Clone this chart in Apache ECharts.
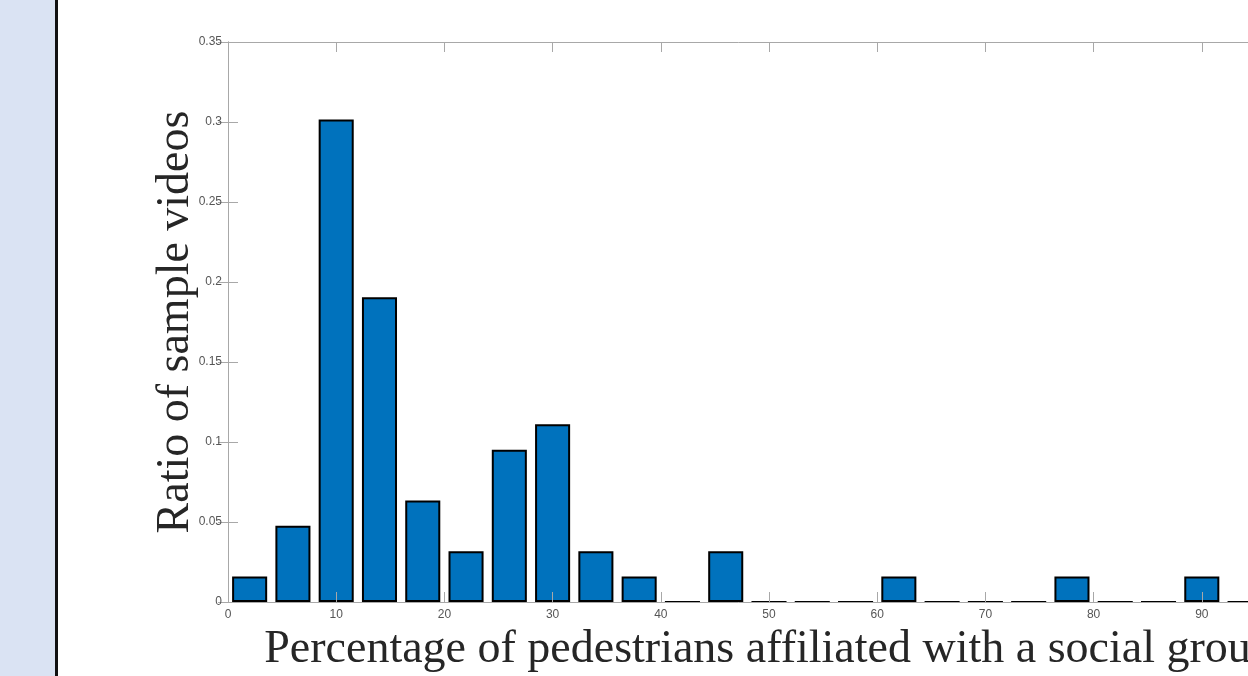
<!DOCTYPE html>
<html>
<head>
<meta charset="utf-8">
<script src="https://cdn.jsdelivr.net/npm/echarts@6/dist/echarts.min.js"></script>
<style>
  html, body { margin: 0; padding: 0; background: #ffffff; }
  #chart { width: 1248px; height: 676px; }
</style>
</head>
<body>
<div id="chart"></div>
<script>
// Histogram bins: 4-percentage-point wide, from 0 to 100
const binCenters = [2, 6, 10, 14, 18, 22, 26, 30, 34, 38, 42, 46, 50,
                    54, 58, 62, 66, 70, 74, 78, 82, 86, 90, 94, 98];
// Share of sample videos falling in each bin
const ratios = [0.0159, 0.0476, 0.3016, 0.1905, 0.0635, 0.0317, 0.0952, 0.1111,
                0.0317, 0.0159, 0, 0.0317, 0, 0, 0, 0.0159, 0, 0, 0, 0.0159,
                0, 0, 0.0159, 0, 0.0159];
const xTickRange = { min: 0, max: 100, step: 10 };
const yTickRange = { min: 0, max: 0.35, step: 0.05 };
const xTitle = 'Percentage of pedestrians affiliated with a social group';
const yTitle = 'Ratio of sample videos';

const axisGray = '#a8a8a8';
const labelGray = '#555555';
const titleColor = '#262626';

const chart = echarts.init(document.getElementById('chart'), null, { renderer: 'canvas' });

const boxAxis = (position, showLabels, extra) => Object.assign({
  type: 'value',
  position: position,
  min: xTickRange.min,
  max: xTickRange.max,
  interval: xTickRange.step,
  z: 5,
  axisLine: { show: true, onZero: false, lineStyle: { color: axisGray, width: 1 } },
  axisTick: { show: true, inside: true, length: 10, lineStyle: { color: axisGray, width: 1 } },
  axisLabel: {
    show: showLabels, color: labelGray, fontSize: 12,
    fontFamily: 'Liberation Sans, Arial, sans-serif', margin: 7
  },
  splitLine: { show: false }
}, extra || {});

chart.setOption({
  animation: false,
  backgroundColor: '#ffffff',
  graphic: [
    { type: 'rect', left: 0, top: 0, shape: { width: 56, height: 676 },
      style: { fill: '#dae3f3' }, z: -10 },
    { type: 'rect', left: 55, top: 0, shape: { width: 3, height: 676 },
      style: { fill: '#111111' }, z: -9 }
  ],
  grid: {
    left: 228, top: 42, width: 1082, height: 560,
    containLabel: false, outerBoundsMode: 'none'
  },
  xAxis: [
    {
      type: 'category',
      data: binCenters,
      show: false,
      boundaryGap: true
    },
    boxAxis('bottom', true, {
      name: xTitle,
      nameLocation: 'middle',
      nameGap: 25,
      nameMoveOverlap: false,
      nameTextStyle: {
        fontFamily: 'Liberation Serif, Times New Roman, serif',
        fontSize: 46, color: titleColor
      }
    }),
    boxAxis('top', false)
  ],
  yAxis: [
    {
      type: 'value',
      position: 'left',
      min: yTickRange.min,
      max: yTickRange.max,
      interval: yTickRange.step,
      z: 5,
      name: yTitle,
      nameLocation: 'middle',
      nameGap: 29,
      nameMoveOverlap: false,
      nameTextStyle: {
        fontFamily: 'Liberation Serif, Times New Roman, serif',
        fontSize: 46, color: titleColor
      },
      axisLine: { show: true, lineStyle: { color: axisGray, width: 1 } },
      axisTick: { show: true, inside: true, length: 10, lineStyle: { color: axisGray, width: 1 } },
      axisLabel: {
        color: labelGray, fontSize: 12,
        fontFamily: 'Liberation Sans, Arial, sans-serif', margin: 6
      },
      splitLine: { show: false }
    },
    {
      type: 'value',
      position: 'right',
      min: yTickRange.min,
      max: yTickRange.max,
      interval: yTickRange.step,
      z: 5,
      axisLine: { show: true, lineStyle: { color: axisGray, width: 1 } },
      axisTick: { show: true, inside: true, length: 10, lineStyle: { color: axisGray, width: 1 } },
      axisLabel: { show: false },
      splitLine: { show: false }
    }
  ],
  series: [
    {
      type: 'bar',
      xAxisIndex: 0,
      yAxisIndex: 0,
      data: ratios,
      barWidth: '81%',
      itemStyle: { color: '#0072bd', borderColor: '#000000', borderWidth: 2 },
      z: 2
    }
  ]
});
</script>
</body>
</html>
